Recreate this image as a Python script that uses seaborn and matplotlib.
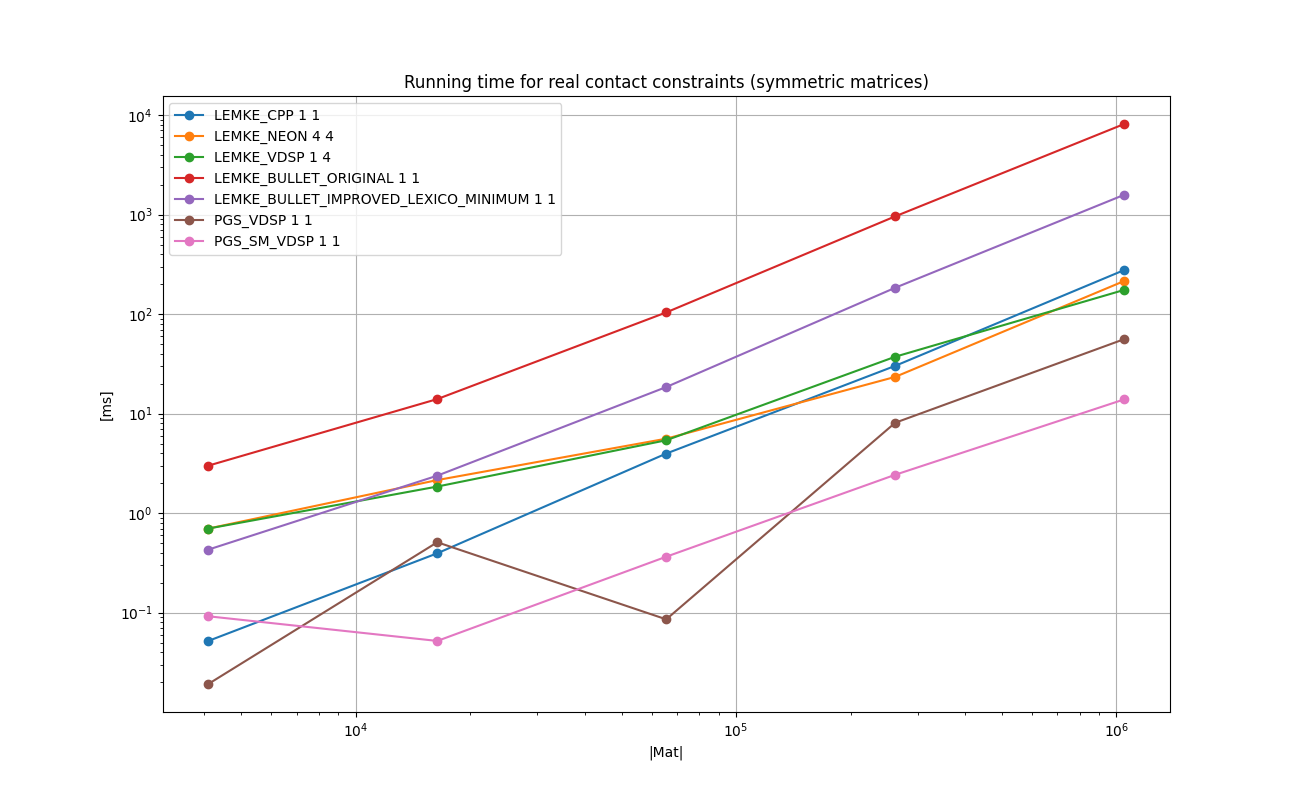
import numpy as np
import pandas as pd
import matplotlib
matplotlib.use("Agg")
import matplotlib.pyplot as plt
import seaborn as sns

# matrix sizes (64^2 ... 1024^2)
mat_sizes = [4096, 16384, 65536, 262144, 1048576]

lemke_cpp = [0.052, 0.395, 3.97, 30.2, 277]
lemke_neon = [0.70, 2.15, 5.6, 23.4, 215]
lemke_vdsp = [0.70, 1.85, 5.4, 37.3, 175]
lemke_bullet_original = [3.0, 14.0, 104, 960, 8130]
lemke_bullet_improved = [0.43, 2.38, 18.5, 184, 1580]
pgs_vdsp = [0.0192, 0.51, 0.0857, 8.1, 56]
pgs_sm_vdsp = [0.092, 0.052, 0.365, 2.43, 13.9]

series_names = [
    "LEMKE_CPP 1 1",
    "LEMKE_NEON 4 4",
    "LEMKE_VDSP 1 4",
    "LEMKE_BULLET_ORIGINAL 1 1",
    "LEMKE_BULLET_IMPROVED_LEXICO_MINIMUM 1 1",
    "PGS_VDSP 1 1",
    "PGS_SM_VDSP 1 1",
]
series_values = [lemke_cpp, lemke_neon, lemke_vdsp, lemke_bullet_original,
                 lemke_bullet_improved, pgs_vdsp, pgs_sm_vdsp]

df = pd.DataFrame({
    "mat": np.tile(mat_sizes, len(series_names)),
    "ms": np.concatenate(series_values),
    "solver": np.repeat(series_names, len(mat_sizes)),
})

colors = sns.color_palette("tab10", len(series_names))

fig, ax = plt.subplots(figsize=(13, 8), dpi=100)
for name, color in zip(series_names, colors):
    sub = df[df["solver"] == name]
    sns.lineplot(data=sub, x="mat", y="ms", ax=ax, color=color, label=name,
                 marker="o", markersize=6, markeredgecolor=color,
                 markeredgewidth=1, linewidth=1.5)

ax.set_xscale("log")
ax.set_yscale("log")
ax.grid(True, which="major")
ax.set_xlabel("|Mat|")
ax.set_ylabel("[ms]")
ax.set_title("Running time for real contact constraints (symmetric matrices)")
ax.legend(loc="upper left")

fig.savefig("out.png", dpi=100)
